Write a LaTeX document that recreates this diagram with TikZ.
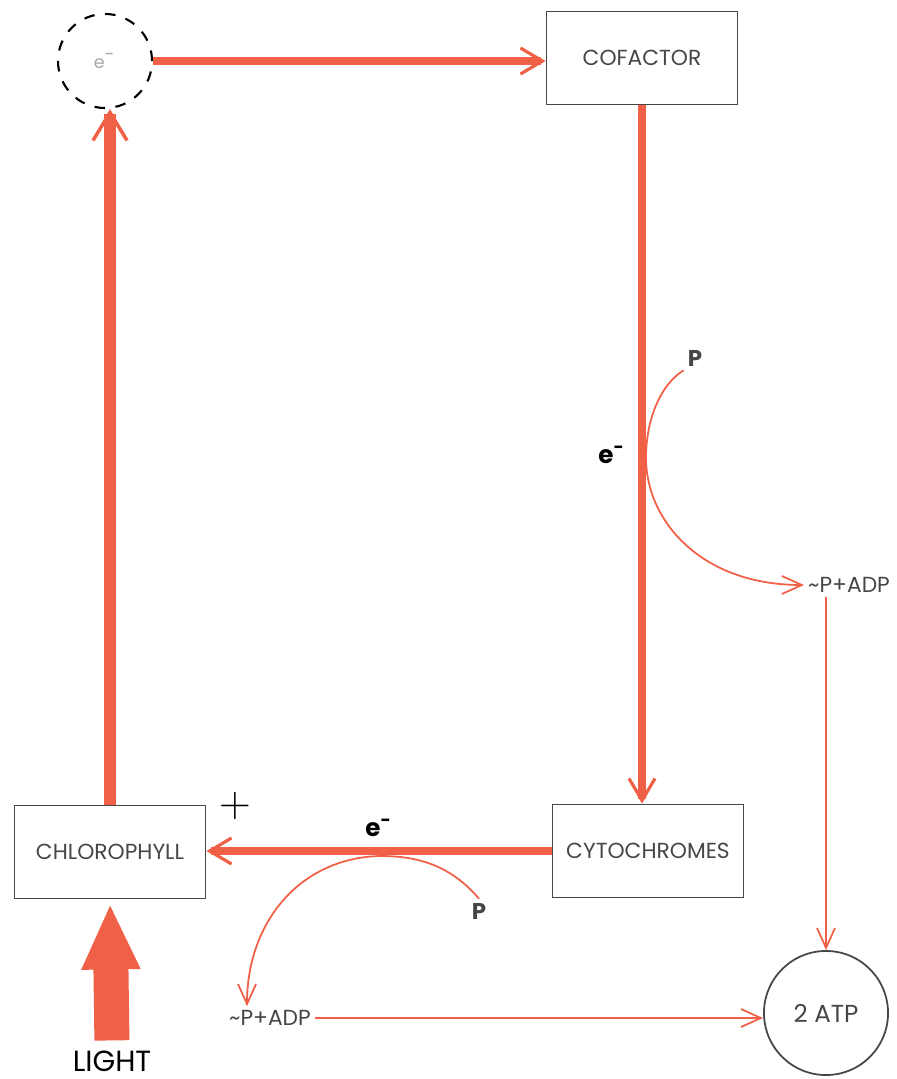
\documentclass[tikz,border=0pt]{standalone}
\usepackage{fontspec}
\setmainfont{Poppins}
\usetikzlibrary{arrows.meta,positioning}
\definecolor{flow}{RGB}{240,96,70}
\definecolor{ink}{RGB}{70,70,70}
\tikzset{
    %Define standard arrow tip
    >={Straight Barb[length=0.22cm,width=0.26cm,line width=0.9pt]},
    %Define style for boxes
    box/.style={
           rectangle,
           draw=ink, line width=0.5pt,
           minimum width=1.91cm,
           minimum height=0.93cm,
           text=ink,
           font=\fontsize{6.2}{7}\selectfont},
    roundbox/.style={
           circle,
           draw=ink, line width=0.5pt,
           minimum size=1.24cm,
           inner sep=0pt,
           text=ink,
           font=\fontsize{7}{8}\selectfont},
    txt/.style={
           inner sep=1pt,
           text=ink,
           font=\fontsize{6.2}{7}\selectfont},
    % Define arrow styles
    pil/.style={
           ->,
           draw=flow,
           line width=2.2pt},
    thinpil/.style={
           ->,
           draw=flow,
           line width=0.5pt,
           >={Straight Barb[length=0.2cm,width=0.18cm,line width=0.5pt]}}
}
\begin{document}
\begin{tikzpicture}[x=0.01cm,y=-0.01cm]
\useasboundingbox (0,0) rectangle (896,1079);
 %nodes
\node[circle, draw=black, dashed, line width=0.6pt, minimum size=0.94cm, inner sep=0pt,
      text=black!35, font=\fontsize{5}{6}\selectfont] (elec) at (105,61) {e\textsuperscript{-}};
\node[box] (cofactor) at (642,58) {COFACTOR};
\node[box] (cyto) at (648,851) {CYTOCHROMES};
\node[box] (chloro) at (110,852) {CHLOROPHYLL};
\node[roundbox] (atp) at (826,1013) {2 ATP};
\node[txt] (adpa) at (849,585) {\textasciitilde P+ADP};
\node[txt] (adpb) at (270,1018) {\textasciitilde P+ADP};
\node[txt, font=\fontsize{6.5}{7}\selectfont\bfseries] (pa) at (695,358) {P};
\node[txt, font=\fontsize{6.5}{7}\selectfont\bfseries] (pb) at (479,911) {P};
\node[txt, text=black, font=\fontsize{7}{8}\selectfont\bfseries] (ea) at (612,455) {e\textsuperscript{-}};
\node[txt, text=black, font=\fontsize{7}{8}\selectfont\bfseries] (eb) at (379,828) {e\textsuperscript{-}};
\node[txt, text=black, font=\fontsize{12}{13}\selectfont] (plus) at (235,806) {$+$};
\node[txt, text=black, font=\fontsize{8.3}{9}\selectfont] (light) at (112,1061) {LIGHT};

 % electron cycle
\draw[pil] (elec.east) -- (elec.east -| cofactor.west);
\draw[pil, line width=2pt] (cofactor.south) -- (cofactor.south |- cyto.north);
\draw[pil] (cyto.west) -- (cyto.west -| chloro.east);
\draw[pil, line width=3.4pt, >={Straight Barb[length=0.28cm,width=0.34cm,line width=1pt]}]
    (chloro.north) -- (chloro.north |- elec.south);

 % phosphorylation side branches
\draw[thinpil] (pa.south west) .. controls (660,385) and (646,420) .. (646,458)
    .. controls (646,520) and (700,585) .. (adpa.west);
\draw[thinpil] (pb.north) .. controls (448,862) and (412,856) .. (380,856)
    .. controls (300,858) and (247,922) .. (adpb.north -| 247,0);
\draw[thinpil] (atp.north |- adpa.south) -- (atp.north);
\draw[thinpil] (adpb.east) -- (adpb.east -| atp.west);

 % incoming light
\draw[draw=flow, line width=0.35cm, shorten <=0.06cm, shorten >=0.04cm,
      -{Triangle[length=0.66cm,width=0.54cm]}] (light.north) -- (chloro.south);
\end{tikzpicture}
\end{document}
